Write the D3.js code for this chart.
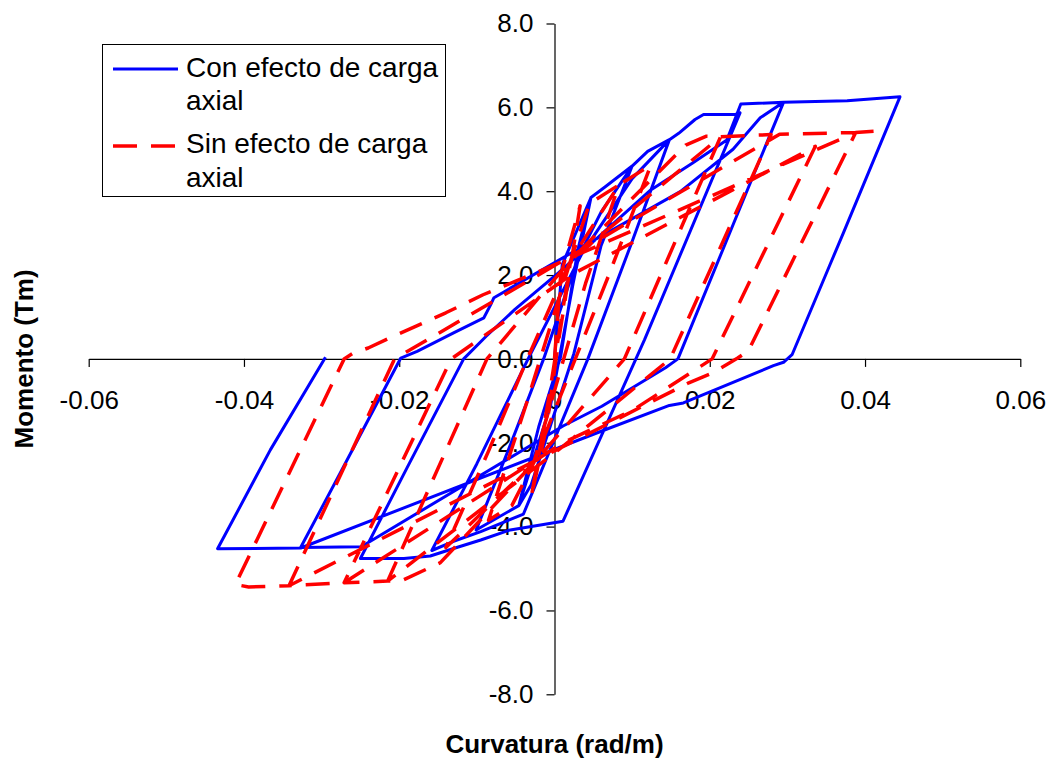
<!DOCTYPE html>
<html><head><meta charset="utf-8">
<script src="https://cdn.jsdelivr.net/npm/d3@7"></script>
<style>
body{margin:0;background:#fff}
svg text{font-family:"Liberation Sans",Arial,sans-serif;fill:#000}
</style>
</head><body>
<svg id="chart" width="1052" height="761"></svg>
<script>
// ---------- data ----------
const xTicks = [-0.06, -0.04, -0.02, 0, 0.02, 0.04, 0.06];
const xTickLabels = ["-0.06", "-0.04", "-0.02", "0", "0.02", "0.04", "0.06"];
const yTicks = [-8, -6, -4, -2, 0, 2, 4, 6, 8];
const yTickLabels = ["-8.0", "-6.0", "-4.0", "-2.0", "0.0", "2.0", "4.0", "6.0", "8.0"];
const seriesNames = [["Con efecto de carga", "axial"], ["Sin efecto de carga", "axial"]];
const xTitle = "Curvatura (rad/m)";
const yTitle = "Momento (Tm)";

// Con efecto de carga axial (blue)
const conCurvatura = [0,0.0010,0.0047,0.0024,-0.0005,-0.0046,-0.0020,0.0008,0.0030,0.0047,0.0065,0.0100,
  0.0060,0.0025,-0.0030,-0.0046,-0.0101,-0.0060,-0.0014,0.0030,0.0060,0.0100,0.0120,0.0148,
  0.0100,0.0043,-0.0040,-0.0095,-0.0130,-0.0158,-0.0100,-0.0034,0.0035,0.0100,0.0148,0.0160,0.0181,0.0192,0.0233,0.0239,
  0.0116,0.0011,-0.0057,-0.0095,-0.0128,-0.0160,-0.0194,-0.0250,-0.0190,-0.0117,-0.0088,-0.0051,0.0005,0.0124,0.0177,0.0222,0.0240,0.0295,
  0.0230,0.0159,0.0143,0.0061,0.0011,-0.0249,-0.0327,-0.0276,-0.0198,-0.0177,-0.0130,-0.0091,-0.0082,-0.0078,0.0021,0.0162,0.0230,0.0265,0.0295,0.0377,0.0445,
  0.0372,0.0354,0.0306,0.0295,0.0282,0.0166,0.0148,0.0061,-0.0327,-0.0434,-0.0366,-0.0295];
const conMomento = [0,2.25,3.85,1.80,-1.10,-3.50,-1.60,0.06,2.60,3.85,4.10,4.60,
  2.70,0.13,-3.00,-3.50,-4.08,-2.20,0.00,2.40,3.50,4.60,4.95,5.23,
  2.80,0.00,-3.70,-4.12,-4.35,-4.57,-2.50,0.00,2.50,4.30,5.23,5.38,5.71,5.83,5.83,5.87,
  0.46,-3.87,-4.08,-4.32,-4.51,-4.70,-4.76,-4.76,-2.60,0.00,0.54,1.18,2.05,4.03,4.66,5.22,6.08,6.12,
  3.20,0.00,-0.21,-1.13,-1.60,-4.48,-4.50,-2.72,0.02,0.18,0.62,0.98,1.30,1.46,2.52,3.99,5.00,5.75,6.12,6.16,6.25,
  3.00,2.21,0.10,-0.08,-0.16,-1.05,-1.11,-1.72,-4.51,-4.53,-2.17,0.04];

// Sin efecto de carga axial (red, dashed)
const sinCurvatura = [0,0.0008,0.0033,0.0005,-0.0010,-0.0030,-0.0008,0.0021,0.0045,0.0083,
  0.0040,-0.0027,-0.0055,-0.0085,-0.0035,0.0021,0.0083,0.0124,
  0.0070,-0.0027,-0.0140,-0.0085,-0.0035,0.0021,0.0169,0.0195,0.0214,
  0.0090,-0.0027,-0.0147,-0.0198,-0.0215,-0.0087,0.0021,0.0214,0.0279,
  0.0149,0.0010,-0.0215,-0.0271,-0.0133,0.0021,0.0336,
  0.0203,0.0102,0.0011,-0.0271,-0.0342,-0.0206,0.0290,0.0388,
  0.0250,0.0236,0.0204,0.0173,-0.0342,-0.0394,-0.0411,-0.0271,-0.0260,-0.0240,-0.0212,-0.0140,-0.0092,-0.0009,0.0388,0.0411];
const sinMomento = [0,2.00,3.65,0.40,-1.60,-3.30,-1.00,2.36,3.70,4.15,
  1.80,-2.49,-3.50,-3.85,-1.00,2.36,4.15,4.62,
  2.00,-2.49,-4.50,-2.20,0.00,2.36,5.10,5.31,5.30,
  0.00,-2.49,-4.86,-5.30,-5.30,0.00,2.36,5.30,5.35,
  0.00,-2.10,-5.30,-5.34,0.00,2.00,5.07,
  0.00,-1.21,-2.00,-5.34,-5.41,0.00,5.36,5.40,
  0.20,0.02,-0.33,-0.57,-5.41,-5.44,-5.38,0.00,0.13,0.26,0.50,1.10,1.53,2.17,5.40,5.43];

// ---------- chart ----------
const svg = d3.select("#chart");
const x = d3.scaleLinear().domain([-0.06, 0.06]).range([88.7, 1020.3]);
const y = d3.scaleLinear().domain([-8, 8]).range([694.3, 23.5]);

const series = [
  {name: seriesNames[0], color: "#0000FF", dash: null, width: 3,
   pts: conCurvatura.map((c, i) => [c, conMomento[i]])},
  {name: seriesNames[1], color: "#FF0000", dash: "24,14", width: 3.5,
   pts: sinCurvatura.map((c, i) => [c, sinMomento[i]])}
];

// axes
const xAxis = d3.axisBottom(x).tickValues(xTicks)
  .tickFormat((d, i) => xTickLabels[i]).tickSizeInner(8).tickSizeOuter(0).tickPadding(24);
const gx = svg.append("g").attr("transform", `translate(0,${y(0)})`).call(xAxis);
const yAxis = d3.axisLeft(y).tickValues(yTicks)
  .tickFormat((d, i) => yTickLabels[i]).tickSizeInner(8).tickSizeOuter(0).tickPadding(13);
const gy = svg.append("g").attr("transform", `translate(${x(0)},0)`).call(yAxis);
[gx, gy].forEach(g => {
  g.selectAll("path.domain").attr("stroke", "#000").attr("stroke-width", 1.2);
  g.selectAll(".tick line").attr("stroke", "#000").attr("stroke-width", 1.2);
  g.selectAll(".tick text").attr("font-size", 26).attr("fill", "#000")
    .attr("font-family", '"Liberation Sans",Arial,sans-serif');
});

// curves
const line = d3.line().x(d => x(d[0])).y(d => y(d[1]));
series.forEach(s => {
  svg.append("path").datum(s.pts)
    .attr("d", line).attr("fill", "none")
    .attr("stroke", s.color).attr("stroke-width", s.width)
    .attr("stroke-linejoin", "round")
    .attr("stroke-dasharray", s.dash);
});

// axis titles
svg.append("text").attr("x", x(0)).attr("y", 753).attr("text-anchor", "middle")
  .attr("font-size", 26).attr("font-weight", "bold").text(xTitle);
svg.append("text").attr("transform", `translate(33,${y(0)}) rotate(-90)`)
  .attr("text-anchor", "middle").attr("font-size", 26).attr("font-weight", "bold").text(yTitle);

// legend
const lg = svg.append("g");
lg.append("rect").attr("x", 102.5).attr("y", 44.5).attr("width", 343).attr("height", 152)
  .attr("fill", "#fff").attr("stroke", "#000").attr("stroke-width", 1);
const legendRows = [{lineY: 69, textY: [77, 110]}, {lineY: 146, textY: [153, 187]}];
series.forEach((s, i) => {
  const r = legendRows[i];
  lg.append("line").attr("x1", 113).attr("x2", 178).attr("y1", r.lineY).attr("y2", r.lineY)
    .attr("stroke", s.color).attr("stroke-width", s.width).attr("stroke-dasharray", s.dash);
  s.name.forEach((t, k) => {
    lg.append("text").attr("x", 186).attr("y", r.textY[k]).attr("font-size", 28).text(t);
  });
});
</script>
</body></html>
